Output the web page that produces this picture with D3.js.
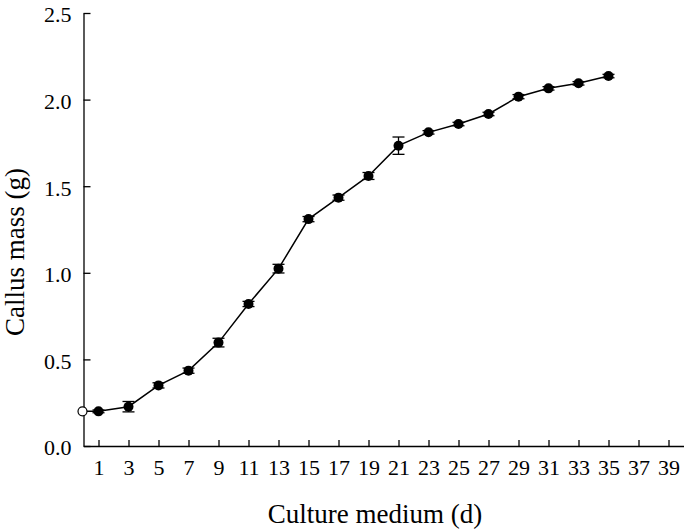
<!DOCTYPE html>
<html>
<head>
<meta charset="utf-8">
<script src="https://cdn.jsdelivr.net/npm/d3@7"></script>
<style>
  body { margin: 0; background: #fff; }
</style>
</head>
<body>
<svg id="chart"></svg>
<script>
// data
var days = [1, 3, 5, 7, 9, 11, 13, 15, 17, 19, 21, 23, 25, 27, 29, 31, 33, 35];
var mass = [0.20, 0.227, 0.35, 0.435, 0.597, 0.82, 1.024, 1.31, 1.434, 1.559, 1.734, 1.811, 1.859, 1.917, 2.017, 2.065, 2.094, 2.136];
var errs = [0.008, 0.03, 0.015, 0.015, 0.025, 0.015, 0.025, 0.015, 0.015, 0.02, 0.05, 0.01, 0.01, 0.01, 0.012, 0.01, 0.01, 0.01];
var startDay = 0, startMass = 0.20;
var xTicks = [1, 3, 5, 7, 9, 11, 13, 15, 17, 19, 21, 23, 25, 27, 29, 31, 33, 35, 37, 39];
var yTicks = [0, 0.5, 1.0, 1.5, 2.0, 2.5];

var screen = { width: 685, height: 532 };
var serif = "Liberation Serif";

var svg = d3.select("#chart")
            .attr("width", screen.width)
            .attr("height", screen.height)
            .attr("font-family", serif);

var xScale = d3.scaleLinear().domain([0, 40]).range([83.5, 683.5]);
var yScale = d3.scaleLinear().domain([0, 2.5]).range([446, 13]);

//axes, ticks pointing inward
var xAxis = d3.axisBottom(xScale).tickValues(xTicks).tickSizeInner(-6).tickSizeOuter(0).tickPadding(13);
var yAxis = d3.axisLeft(yScale).tickValues(yTicks).tickSizeInner(-7).tickSizeOuter(0).tickPadding(12)
              .tickFormat(d3.format(".1f"));

var gx = svg.append("g").attr("transform", "translate(0,446)").call(xAxis);
var gy = svg.append("g").attr("transform", "translate(83.5,0)").call(yAxis);

[gx, gy].forEach(function(g){
  g.attr("font-family", serif).attr("font-size", 22);
  g.select(".domain").attr("stroke", "#000").attr("stroke-width", 1.3);
  g.selectAll(".tick line").attr("stroke", "#000").attr("stroke-width", 1.3);
  g.selectAll(".tick text")
   .attr("font-family", serif)
   .attr("font-size", 22)
   .attr("fill", "#000");
});
gx.selectAll(".tick text").attr("dy", "0.71em");
gy.selectAll(".tick text").attr("dy", "0.4em");

//line through all points
var pts = [{d: startDay, m: startMass}].concat(days.map(function(d, i){ return {d: d, m: mass[i]}; }));
var line = d3.line().x(function(p){ return xScale(p.d); }).y(function(p){ return yScale(p.m); });

svg.append("path")
   .datum(pts)
   .attr("d", line)
   .attr("fill", "none")
   .attr("stroke", "#000")
   .attr("stroke-width", 1.5);

//error bars
var bars = svg.append("g").selectAll("g")
              .data(days.map(function(d, i){ return {d: d, m: mass[i], e: errs[i]}; }))
              .enter().append("g");

bars.append("line")
    .attr("x1", function(p){ return xScale(p.d); })
    .attr("x2", function(p){ return xScale(p.d); })
    .attr("y1", function(p){ return yScale(p.m - p.e); })
    .attr("y2", function(p){ return yScale(p.m + p.e); })
    .attr("stroke", "#000").attr("stroke-width", 1.3);

[-1, 1].forEach(function(s){
  bars.append("line")
      .attr("x1", function(p){ return xScale(p.d) - 6; })
      .attr("x2", function(p){ return xScale(p.d) + 6; })
      .attr("y1", function(p){ return yScale(p.m + s * p.e); })
      .attr("y2", function(p){ return yScale(p.m + s * p.e); })
      .attr("stroke", "#000").attr("stroke-width", 1.3);
});

//markers
svg.append("g").selectAll("circle")
   .data(days)
   .enter().append("circle")
   .attr("cx", function(d){ return xScale(d); })
   .attr("cy", function(d, i){ return yScale(mass[i]); })
   .attr("r", 5)
   .attr("fill", "#000");

svg.append("circle")
   .attr("cx", xScale(startDay) - 1)
   .attr("cy", yScale(startMass))
   .attr("r", 4.5)
   .attr("fill", "#fff")
   .attr("stroke", "#000")
   .attr("stroke-width", 1.2);

//axis titles
svg.append("text")
   .attr("x", 375).attr("y", 523)
   .attr("text-anchor", "middle")
   .attr("font-family", serif)
   .attr("font-size", 27)
   .attr("fill", "#000")
   .text("Culture medium (d)");

svg.append("text")
   .attr("transform", "translate(24,252) rotate(-90)")
   .attr("text-anchor", "middle")
   .attr("font-family", serif)
   .attr("font-size", 27)
   .attr("fill", "#000")
   .text("Callus mass (g)");
</script>
</body>
</html>
